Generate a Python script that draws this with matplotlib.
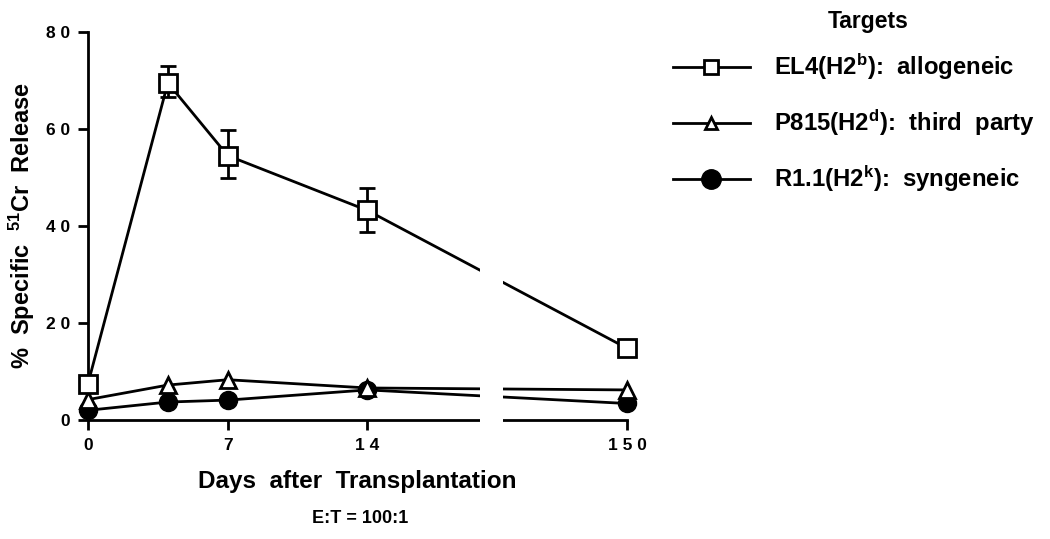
import numpy as np
import matplotlib.pyplot as plt
from matplotlib.lines import Line2D

plt.rcParams['font.family'] = ['Liberation Sans', 'DejaVu Sans']
plt.rcParams['font.weight'] = 'bold'
plt.rcParams['axes.labelweight'] = 'bold'
plt.rcParams['mathtext.fontset'] = 'custom'
plt.rcParams['mathtext.rm'] = 'Liberation Sans:bold'
plt.rcParams['mathtext.it'] = 'Liberation Sans:bold'

days = [0, 4, 7, 14, 150]
el4 = [7.5, 69.5, 54.5, 43.2, 14.8]
el4_err_lo = [0, 3.0, 4.6, 4.4, 0]
el4_err_hi = [0, 3.5, 5.2, 4.6, 0]
p815 = [4.2, 7.2, 8.3, 6.6, 6.2]
r11 = [2.0, 3.7, 4.1, 6.2, 3.4]
xticks = [0, 7, 14, 150]
yticks = [0, 20, 40, 60, 80]
labels = ['EL4(H2$^{b}$):  allogeneic',
          'P815(H2$^{d}$):  third  party',
          'R1.1(H2$^{k}$):  syngeneic']

# broken axis: linear up to 14 days, then compressed to 150
def fwd(x):
    x = np.asarray(x, dtype=float)
    return np.where(x <= 14, x, 14 + (x - 14) * 13.0 / 136.0)

def inv(x):
    x = np.asarray(x, dtype=float)
    return np.where(x <= 14, x, 14 + (x - 14) * 136.0 / 13.0)

fig = plt.figure(figsize=(10.5, 5.39), dpi=100)
ax = fig.add_axes([0.0838, 0.2208, 0.5133, 0.7199])
ax.set_xscale('function', functions=(fwd, inv))

lw = 2.0
ax.plot(days, el4, color='black', lw=lw, zorder=2, clip_on=False)
ax.plot(days, p815, color='black', lw=lw, zorder=2, clip_on=False)
ax.plot(days, r11, color='black', lw=lw, zorder=2, clip_on=False)

# gap of the axis break
ax.axvspan(inv(19.65), inv(20.8), ymin=-0.02, ymax=1, color='white',
           zorder=3, clip_on=False, lw=0)

ax.errorbar(days[1:4], el4[1:4], yerr=[el4_err_lo[1:4], el4_err_hi[1:4]],
            fmt='none', ecolor='black', elinewidth=2, capsize=6, capthick=2,
            zorder=4, clip_on=False)
ax.plot(days, r11, ls='none', marker='o', ms=13, mfc='black', mec='black',
        zorder=5, clip_on=False)
ax.plot(days, p815, ls='none', marker='^', ms=11, mfc='white', mec='black',
        mew=2, zorder=6, clip_on=False)
ax.plot(days, el4, ls='none', marker='s', ms=13, mfc='white', mec='black',
        mew=2, zorder=7, clip_on=False)

ax.set_xlim(0, 150)
ax.set_ylim(0, 80)
ax.spines['top'].set_visible(False)
ax.spines['right'].set_visible(False)
for s in ['left', 'bottom']:
    ax.spines[s].set_linewidth(2)
ax.set_xticks(xticks)
ax.set_xticklabels([' '.join(str(t)) for t in xticks])
ax.set_yticks(yticks)
ax.set_yticklabels([' '.join(str(t)) if t else '0' for t in yticks])
ax.tick_params(width=2, length=7, labelsize=12.5, pad=6)

ax.set_xlabel('Days  after  Transplantation', fontsize=17.5, labelpad=12)
ax.set_ylabel('%  Specific  $^{51}$Cr  Release', fontsize=17, labelpad=6)
fig.text(0.343, 0.03, 'E:T = 100:1', fontsize=13, ha='center')

handles = [
    Line2D([], [], color='black', lw=2, marker='s', ms=10, mfc='white', mec='black', mew=2),
    Line2D([], [], color='black', lw=2, marker='^', ms=9, mfc='white', mec='black', mew=2),
    Line2D([], [], color='black', lw=2, marker='o', ms=14, mfc='black', mec='black'),
]
leg = fig.legend(handles, labels, loc='upper left', bbox_to_anchor=(0.620, 0.944),
                 frameon=False, fontsize=17.2,
                 handlelength=3.25, handletextpad=1.0, labelspacing=1.05,
                 numpoints=1)
fig.text(0.827, 0.961, 'Targets', fontsize=16.5, ha='center', va='center')

fig.savefig('out.png', dpi=100)
